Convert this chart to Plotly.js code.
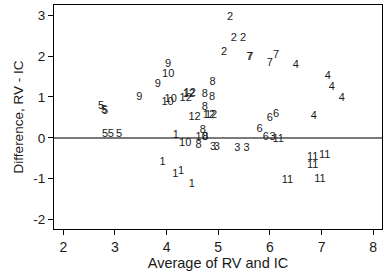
<!DOCTYPE html>
<html>
<head>
<meta charset="utf-8">
<script src="https://cdn.plot.ly/plotly-3.0.1.min.js"></script>
<style>
  html, body { margin: 0; padding: 0; background: #fff; }
  #chart { width: 389px; height: 273px; }
</style>
</head>
<body>
<div id="chart"></div>
<script>
// Subject id for each observation (drawn as the marker label)
const subject = [
  1, 1, 1, 1, 1,
  2, 2, 2, 2,
  3, 3, 3, 3, 3,
  4, 4, 4, 4, 4,
  5, 5, 5, 5, 5, 5,
  6, 6, 6, 6,
  7, 7, 7, 7,
  8, 8, 8, 8, 8, 8, 8,
  9, 9, 9,
  10, 10, 10, 10, 10,
  11, 11, 11, 11, 11, 11,
  12, 12, 12, 12, 12, 12
];
// Mean of the two measurements
const average = [
  4.18, 3.92, 4.17, 4.28, 4.49,
  5.23, 5.30, 5.48, 5.11,
  6.05, 5.37, 5.55, 4.90, 4.97,
  6.50, 7.12, 7.20, 7.39, 6.85,
  2.73, 2.79, 2.81, 2.81, 2.92, 3.08,
  6.00, 6.12, 5.80, 5.92,
  5.60, 5.62, 6.00, 6.12,
  4.89, 4.74, 4.88, 4.74, 4.70, 4.62, 4.75,
  4.03, 3.83, 3.47,
  4.03, 4.02, 4.08, 4.36, 4.68,
  6.16, 6.83, 6.83, 7.06, 6.34, 6.97,
  4.43, 4.37, 4.45, 4.54, 4.82, 4.86
];
// RV minus IC
const difference = [
  0.06, -0.60, -0.89, -0.81, -1.13,
  2.94, 2.43, 2.43, 2.09,
  0.02, -0.26, -0.26, -0.24, -0.23,
  1.77, 1.50, 1.23, 0.97, 0.53,
  0.77, 0.67, 0.65, 0.09, 0.09, 0.09,
  0.48, 0.58, 0.21, 0.02,
  1.97, 1.96, 1.82, 2.01,
  1.35, 1.06, 1.00, 0.76, 0.19, -0.18, 0.01,
  1.81, 1.30, 0.99,
  1.55, 0.87, 0.94, -0.14, 0.01,
  -0.04, -0.48, -0.68, -0.42, -1.04, -1.01,
  1.07, 0.98, 1.10, 0.51, 0.55, 0.55
];

const xTicks = [2, 3, 4, 5, 6, 7, 8];
const yTicks = [-2, -1, 0, 1, 2, 3];

const FONT = 'Liberation Sans, Arial, sans-serif';
const INK = '#1a1a1a';

const trace = {
  type: 'scatter',
  mode: 'text',
  x: average,
  y: difference,
  text: subject.map(String),
  textposition: 'middle center',
  textfont: { family: FONT, size: 11, color: INK },
  hoverinfo: 'x+y+text',
  showlegend: false
};

const axisCommon = {
  showline: true,
  mirror: true,
  linecolor: '#000',
  linewidth: 1,
  ticks: 'outside',
  ticklen: 5,
  tickwidth: 1,
  tickcolor: '#000',
  showgrid: false
};

const layout = {
  width: 389,
  height: 273,
  margin: { l: 54, r: 7, t: 5, b: 44 },
  paper_bgcolor: '#fff',
  plot_bgcolor: '#fff',
  xaxis: Object.assign({}, axisCommon, {
    range: [1.82, 8.17],
    tickvals: xTicks,
    ticktext: xTicks.map(String),
    tickfont: { family: FONT, size: 14, color: INK },
    zeroline: false,
    title: { text: 'Average of RV and IC', standoff: 1,
             font: { family: FONT, size: 14.5, color: INK } }
  }),
  yaxis: Object.assign({}, axisCommon, {
    range: [-2.23, 3.25],
    tickvals: yTicks,
    ticktext: yTicks.map(String),
    tickfont: { family: FONT, size: 13.5, color: INK },
    zeroline: true,
    zerolinecolor: '#7a7a7a',
    zerolinewidth: 1.5,
    title: { text: 'Difference, RV - IC', standoff: 6,
             font: { family: FONT, size: 13.5, color: INK } }
  })
};

Plotly.newPlot('chart', [trace], layout, { displayModeBar: false, staticPlot: true });
</script>
</body>
</html>
